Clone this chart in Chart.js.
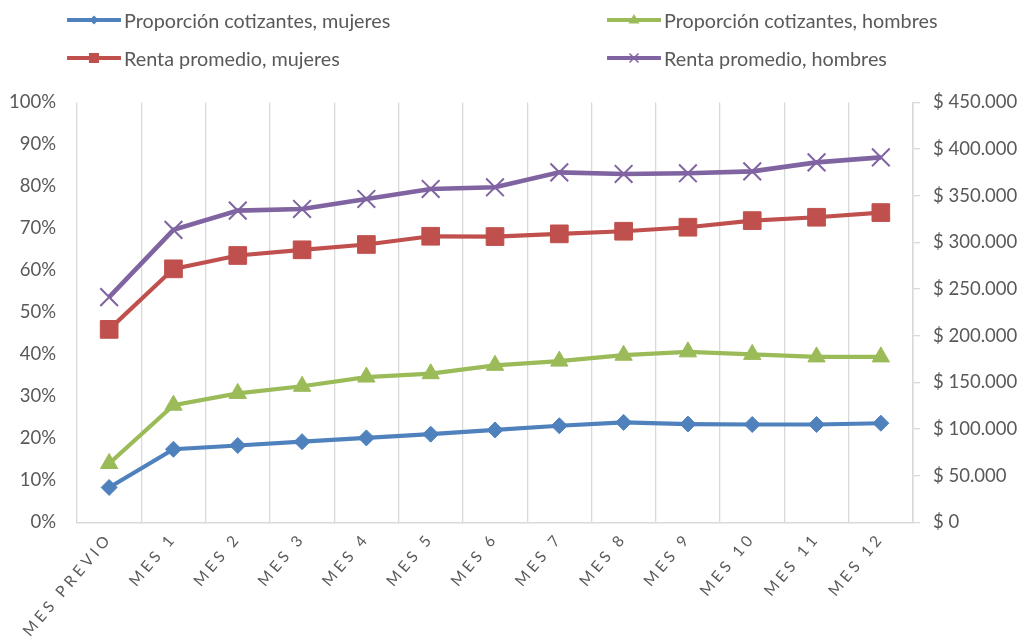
<!DOCTYPE html>
<html>
<head>
<meta charset="utf-8">
<script src="https://cdn.jsdelivr.net/npm/chart.js@4.4.1/dist/chart.umd.min.js"></script>
<style>
  html, body { margin: 0; padding: 0; background: #fff; }
  #wrap { position: relative; width: 1024px; height: 641px; }
  canvas { position: absolute; left: 0; top: 0; }
  .lg { position: absolute; display: flex; align-items: center; font-family: Lato, "Open Sans", sans-serif; font-size: 19.8px; color: #595959; white-space: nowrap; }
  .lg svg { margin-right: 3px; }
</style>
</head>
<body>
<div id="wrap">
  <canvas id="c" width="1024" height="641"></canvas>
  <div id="legend"></div>
</div>
<script>
// ---- Data ----
const categories = ["MES PREVIO", "MES 1", "MES 2", "MES 3", "MES 4", "MES 5", "MES 6", "MES 7", "MES 8", "MES 9", "MES 10", "MES 11", "MES 12"];
const seriesNames = ["Proporción cotizantes, mujeres", "Proporción cotizantes, hombres", "Renta promedio, mujeres", "Renta promedio, hombres"];
// Proportions in %
const propMujeres = [8.3, 17.4, 18.3, 19.2, 20.1, 21.0, 22.0, 23.0, 23.8, 23.4, 23.3, 23.3, 23.6];
const propHombres = [14.0, 27.9, 30.7, 32.4, 34.6, 35.4, 37.4, 38.4, 39.8, 40.6, 40.0, 39.4, 39.4];
// Average income in pesos
const rentaMujeres = [206800, 271700, 286000, 292100, 297800, 306600, 306300, 309200, 312000, 316300, 323400, 327000, 332000];
const rentaHombres = [241400, 313500, 334100, 335900, 346600, 357300, 359100, 375100, 373400, 374100, 376200, 385800, 391200];
// Axis ticks
const leftTicks = { min: 0, max: 100, step: 10 };
const rightTicks = { min: 0, max: 450000, step: 50000 };

const colors = ["#4F81BD", "#9BBB59", "#C0504D", "#8064A2"];
const styles = ["rectRot", "triangle", "rect", "crossRot"];

function fmtPesos(v) {
  return "$ " + String(Math.round(v)).replace(/\B(?=(\d{3})+(?!\d))/g, ".");
}

// Category scale with letter-spaced labels
class SpacedCategory extends Chart.CategoryScale {
  drawLabels(area) {
    const ctx = this.ctx;
    const prev = ctx.letterSpacing;
    try { ctx.letterSpacing = "3.8px"; } catch (e) {}
    super.drawLabels(area);
    try { ctx.letterSpacing = prev || "0px"; } catch (e) {}
  }
}
SpacedCategory.id = "spacedCategory";
SpacedCategory.defaults = Chart.CategoryScale.defaults;
Chart.register(SpacedCategory);

const tickFont = { family: "Lato, 'Open Sans', sans-serif", size: 18.5 };

const datasets = [
  { label: seriesNames[0], data: propMujeres, yAxisID: "yL", borderColor: colors[0], backgroundColor: colors[0], pointStyle: styles[0], pointRadius: 8, pointBorderWidth: 1, borderWidth: 4.2 },
  { label: seriesNames[1], data: propHombres, yAxisID: "yL", borderColor: colors[1], backgroundColor: colors[1], pointStyle: styles[1], pointRadius: 10, pointBorderWidth: 1, borderWidth: 4.2 },
  { label: seriesNames[2], data: rentaMujeres, yAxisID: "yR", borderColor: colors[2], backgroundColor: colors[2], pointStyle: styles[2], pointRadius: 12.5, pointBorderWidth: 1, borderWidth: 4.2 },
  { label: seriesNames[3], data: rentaHombres, yAxisID: "yR", borderColor: colors[3], backgroundColor: colors[3], pointStyle: styles[3], pointRadius: 12.5, pointBorderWidth: 2, borderWidth: 4.6 }
];

new Chart(document.getElementById("c"), {
  type: "line",
  data: { labels: categories, datasets: datasets },
  options: {
    responsive: false,
    animation: false,
    devicePixelRatio: 1,
    layout: { padding: { top: 102.5, left: 0, right: 0, bottom: 0 } },
    plugins: { legend: { display: false }, tooltip: { enabled: false } },
    elements: { line: { tension: 0 } },
    scales: {
      x: {
        type: "spacedCategory",
        offset: true,
        grid: { offset: true, color: "#D9D9D9", lineWidth: 1.3, drawTicks: false },
        border: { display: true, color: "#D9D9D9", width: 1.5 },
        ticks: { color: "#595959", font: { family: "Lato, 'Open Sans', sans-serif", size: 15.5 }, minRotation: 50, maxRotation: 50, padding: 7, autoSkip: false },
        afterFit: (s) => { s.height = 118.7; }
      },
      yL: {
        position: "left",
        min: leftTicks.min, max: leftTicks.max,
        grid: { display: false },
        border: { display: false },
        ticks: { stepSize: leftTicks.step, color: "#595959", font: tickFont, padding: 13, callback: (v) => v + "%" },
        afterFit: (s) => { s.width = 77; }
      },
      yR: {
        position: "right",
        min: rightTicks.min, max: rightTicks.max,
        grid: { drawOnChartArea: false, color: "#D9D9D9", tickLength: 7, lineWidth: 1.3 },
        border: { display: true, color: "#D9D9D9", width: 1.5 },
        ticks: { stepSize: rightTicks.step, color: "#595959", font: tickFont, padding: 13, callback: (v) => fmtPesos(v) },
        afterFit: (s) => { s.width = 111; }
      }
    }
  }
});

// ---- HTML legend (2 x 2 grid) ----
const legendPos = [[67, 20], [607, 20], [67, 58], [607, 58]];
function markerSvg(style, color) {
  let m = "";
  const cx = 27, cy = 8;
  if (style === "rectRot") m = `<polygon points="${cx},${cy-4.5} ${cx+4.5},${cy} ${cx},${cy+4.5} ${cx-4.5},${cy}" fill="${color}"/>`;
  else if (style === "triangle") m = `<polygon points="${cx},${cy-6} ${cx+5.5},${cy+3.5} ${cx-5.5},${cy+3.5}" fill="${color}"/>`;
  else if (style === "rect") m = `<rect x="${cx-5}" y="${cy-5}" width="10" height="10" fill="${color}"/>`;
  else m = `<path d="M${cx-4.5},${cy-4.5} L${cx+4.5},${cy+4.5} M${cx+4.5},${cy-4.5} L${cx-4.5},${cy+4.5}" stroke="${color}" stroke-width="1.5"/>`;
  return `<svg width="54" height="16" viewBox="0 0 54 16"><line x1="1" y1="8" x2="53" y2="8" stroke="${color}" stroke-width="4" stroke-linecap="round"/>${m}</svg>`;
}
const lg = document.getElementById("legend");
seriesNames.forEach((name, i) => {
  const d = document.createElement("div");
  d.className = "lg";
  d.style.left = legendPos[i][0] + "px";
  d.style.top = (legendPos[i][1] - 13) + "px";
  d.style.height = "26px";
  d.innerHTML = markerSvg(styles[i], colors[i]) + `<span>${name}</span>`;
  lg.appendChild(d);
});
</script>
</body>
</html>
